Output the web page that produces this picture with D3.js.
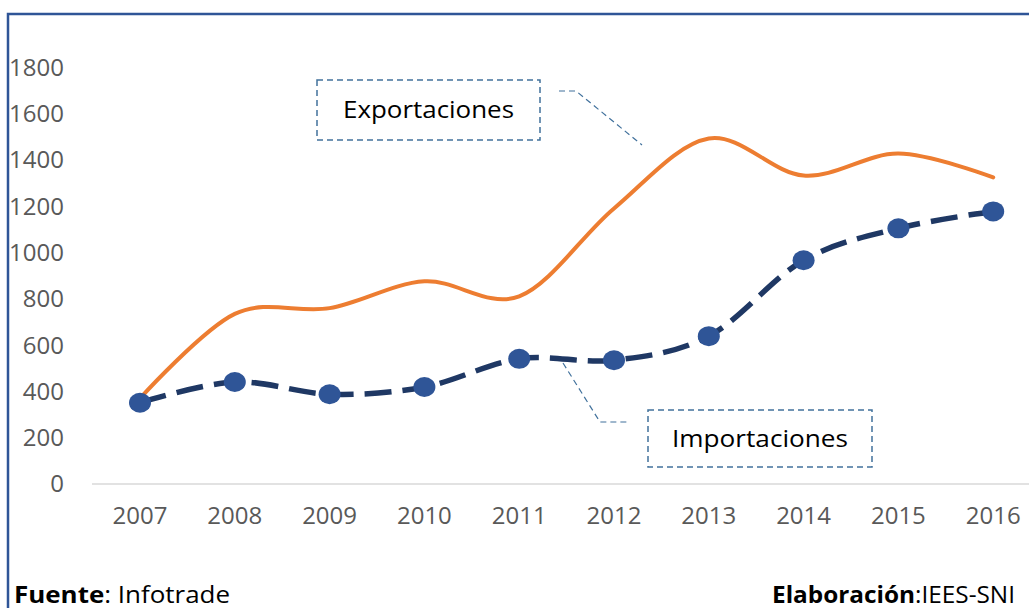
<!DOCTYPE html>
<meta charset="utf-8">
<style>
  body { margin: 0; background: #fff; }
  svg text { font-family: "Open Sans", sans-serif; }
  .tick-label { font-size: 24px; fill: #595959; }
  .callout text { font-size: 24px; fill: #000; }
  .foot { font-size: 24px; fill: #000; }
</style>
<svg width="1029" height="608" id="chart"></svg>
<script src="https://d3js.org/d3.v7.min.js"></script>
<script>
var years = ["2007","2008","2009","2010","2011","2012","2013","2014","2015","2016"];
var exportaciones = [370, 735, 760, 876, 811, 1191, 1493, 1333, 1428, 1325];
var importaciones = [351, 441, 388, 419, 541, 535, 639, 967, 1105, 1178];
var yTicks = [0, 200, 400, 600, 800, 1000, 1200, 1400, 1600, 1800];

var svg = d3.select("#chart");

// frame (only top and left edges show)
svg.append("path")
  .attr("d", "M8,608 L8,14 L1029,14")
  .attr("fill", "none")
  .attr("stroke", "#2F5597")
  .attr("stroke-width", 2.5);

var x = d3.scaleBand().domain(years).range([92.6, 1040.6]);
var y = d3.scaleLinear().domain([0, 1800]).range([484, 67.5]);
var cx = function(d) { return x(d) + x.bandwidth() / 2; };

// baseline
svg.append("line")
  .attr("x1", 92).attr("x2", 1029)
  .attr("y1", y(0)).attr("y2", y(0))
  .attr("stroke", "#D9D9D9").attr("stroke-width", 1.5);

svg.append("g").selectAll("text")
  .data(yTicks).enter().append("text")
  .attr("class", "tick-label")
  .attr("x", 64)
  .attr("y", d => y(d))
  .attr("dy", "0.35em")
  .attr("text-anchor", "end")
  .text(d => d);

svg.append("g").selectAll("text")
  .data(years).enter().append("text")
  .attr("class", "tick-label")
  .attr("x", d => cx(d))
  .attr("y", 524)
  .attr("text-anchor", "middle")
  .text(d => d);

var line = d3.line()
  .x((d, i) => cx(years[i]))
  .y(d => y(d))
  .curve(d3.curveCardinal.tension(0));

svg.append("path")
  .datum(exportaciones)
  .attr("d", line)
  .attr("fill", "none")
  .attr("stroke", "#ED7D31")
  .attr("stroke-width", 4)
  .attr("stroke-linecap", "round");

svg.append("path")
  .datum(importaciones)
  .attr("d", line)
  .attr("fill", "none")
  .attr("stroke", "#1F3864")
  .attr("stroke-width", 5.5)
  .attr("stroke-dasharray", "27,11");

svg.append("g").selectAll("ellipse")
  .data(importaciones).enter().append("ellipse")
  .attr("cx", (d, i) => cx(years[i]))
  .attr("cy", d => y(d))
  .attr("rx", 11).attr("ry", 10)
  .attr("fill", "#2F5597");

// callouts
var callouts = [
  {label: "Exportaciones", len: 171, box: [317, 80, 223, 60], leader: [[559, 91], [576, 91], [642, 145]]},
  {label: "Importaciones", len: 176, box: [648, 410, 224, 57], leader: [[563, 363], [600, 422], [630, 422]]}
];

var cg = svg.append("g").attr("class", "callout");
callouts.forEach(function(c) {
  cg.append("rect")
    .attr("x", c.box[0]).attr("y", c.box[1])
    .attr("width", c.box[2]).attr("height", c.box[3])
    .attr("fill", "none")
    .attr("stroke", "#41719C")
    .attr("stroke-width", 1.5)
    .attr("stroke-dasharray", "6,4");
  cg.append("path")
    .attr("d", d3.line()(c.leader))
    .attr("fill", "none")
    .attr("stroke", "#41719C")
    .attr("stroke-width", 1.2)
    .attr("stroke-dasharray", "6,4");
  cg.append("text")
    .attr("x", c.box[0] + c.box[2] / 2)
    .attr("y", c.box[1] + c.box[3] / 2)
    .attr("dy", "0.35em")
    .attr("text-anchor", "middle")
    .attr("textLength", c.len)
    .attr("lengthAdjust", "spacingAndGlyphs")
    .text(c.label);
});

// footer
var f1 = svg.append("text").attr("class", "foot").attr("x", 14).attr("y", 603)
  .attr("textLength", 216).attr("lengthAdjust", "spacingAndGlyphs");
f1.append("tspan").attr("font-weight", "bold").text("Fuente");
f1.append("tspan").text(": Infotrade");

var f2 = svg.append("text").attr("class", "foot").attr("x", 772).attr("y", 603)
  .attr("textLength", 243).attr("lengthAdjust", "spacingAndGlyphs");
f2.append("tspan").attr("font-weight", "bold").text("Elaboración");
f2.append("tspan").text(":IEES-SNI");
</script>
